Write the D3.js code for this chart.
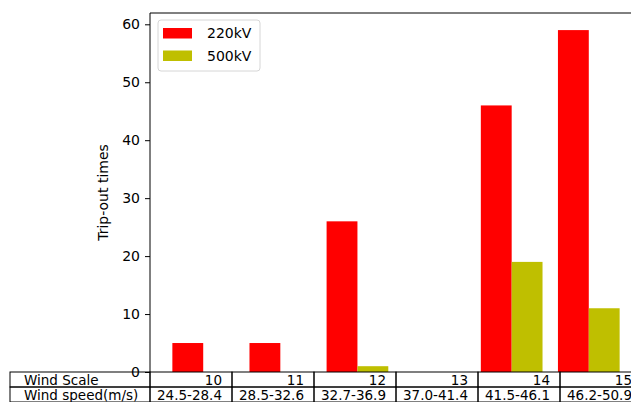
<!DOCTYPE html>
<html>
<head>
<meta charset="utf-8">
<script src="https://cdn.jsdelivr.net/npm/d3@7"></script>
<style>
  body { margin: 0; background: #fff; }
  text { font-family: "DejaVu Sans", sans-serif; fill: #000; }
</style>
</head>
<body>
<div id="chart"></div>
<script>
// data
var windScale = ["10", "11", "12", "13", "14", "15"];
var windSpeed = ["24.5-28.4", "28.5-32.6", "32.7-36.9", "37.0-41.4", "41.5-46.1", "46.2-50.9"];
var trips220 = [5, 5, 26, 0, 46, 59];
var trips500 = [0, 0, 1, 0, 19, 11];
var yTicks = [0, 10, 20, 30, 40, 50, 60];
var seriesNames = ["220kV", "500kV"];
var seriesColors = ["#ff0000", "#bfbf00"];

var W = 631, H = 402;
var margin = { top: 13, left: 150, axRight: 642, bottom: 372 };

var svg = d3.select("#chart").append("svg")
    .attr("width", W)
    .attr("height", H);

var x = d3.scaleLinear()
    .domain([-0.49, 5.89])
    .range([margin.left, margin.axRight]);
var y = d3.scaleLinear()
    .domain([0, 61.95])
    .range([margin.bottom, margin.top]);

var barW = 0.4;

// bars
svg.append("g").selectAll("rect.r")
    .data(trips220)
    .enter().append("rect")
    .attr("x", function(d, i){ return x(i - barW / 2); })
    .attr("width", function(){ return x(barW) - x(0); })
    .attr("y", function(d){ return y(d); })
    .attr("height", function(d){ return y(0) - y(d); })
    .attr("fill", seriesColors[0]);

svg.append("g").selectAll("rect.y")
    .data(trips500)
    .enter().append("rect")
    .attr("x", function(d, i){ return x(i + barW / 2); })
    .attr("width", function(){ return x(barW) - x(0); })
    .attr("y", function(d){ return y(d); })
    .attr("height", function(d){ return y(0) - y(d); })
    .attr("fill", seriesColors[1]);

// y axis
var yAxis = d3.axisLeft(y).tickValues(yTicks).tickSize(5).tickPadding(5);
var gy = svg.append("g")
    .attr("transform", "translate(" + margin.left + ",0)")
    .call(yAxis);
gy.select(".domain").remove();
gy.selectAll("text").style("font-size", "14px").style("font-family", "DejaVu Sans");
gy.selectAll("line").attr("stroke", "#000");

// frame
svg.append("path")
    .attr("d", "M" + margin.left + "," + margin.bottom + "V" + margin.top + "H" + margin.axRight + "V" + margin.bottom)
    .attr("fill", "none")
    .attr("stroke", "#000")
    .attr("stroke-width", 1);

// y label
svg.append("text")
    .attr("transform", "translate(108," + (margin.top + margin.bottom) / 2 + ") rotate(-90)")
    .attr("text-anchor", "middle")
    .style("font-size", "14px")
    .text("Trip-out times");

// legend
var leg = svg.append("g").attr("transform", "translate(158,20)");
leg.append("rect")
    .attr("width", 102).attr("height", 51)
    .attr("rx", 3)
    .attr("fill", "#fff")
    .attr("stroke", "#d6d6d6");
seriesNames.forEach(function(name, i){
    leg.append("rect")
        .attr("x", 5).attr("y", 8 + i * 22.5)
        .attr("width", 29).attr("height", 10.5)
        .attr("fill", seriesColors[i]);
    leg.append("text")
        .attr("x", 49).attr("y", 13 + i * 22.5)
        .attr("dy", "0.36em")
        .style("font-size", "14px")
        .text(name);
});

// table under the axes
var rowH = 15;
var colW = (margin.axRight - margin.left) / windScale.length;
var tbl = svg.append("g");
var rows = [["Wind Scale"].concat(windScale), ["Wind speed(m/s)"].concat(windSpeed)];
rows.forEach(function(row, r){
    var ty = margin.bottom + r * rowH;
    row.forEach(function(cell, c){
        var cx = c === 0 ? 10 : margin.left + (c - 1) * colW;
        var cw = c === 0 ? margin.left - 10 : colW;
        tbl.append("rect")
            .attr("x", cx).attr("y", ty)
            .attr("width", cw).attr("height", rowH)
            .attr("fill", "none")
            .attr("stroke", "#000");
        tbl.append("text")
            .attr("x", c === 0 ? cx + 14 : cx + cw - 10)
            .attr("y", ty + rowH / 2 + 0.5)
            .attr("dy", "0.36em")
            .attr("text-anchor", c === 0 ? "start" : "end")
            .style("font-size", "13.5px")
            .text(cell);
    });
});
</script>
</body>
</html>
